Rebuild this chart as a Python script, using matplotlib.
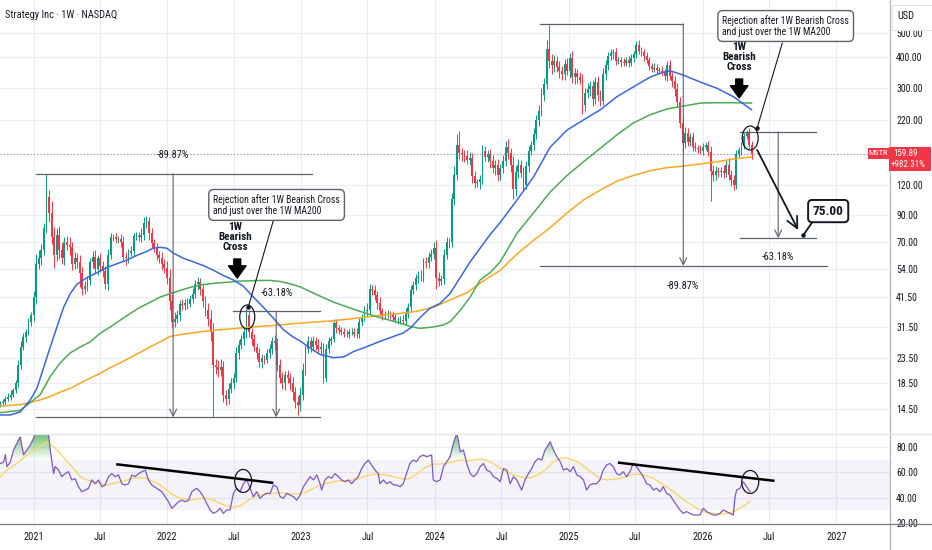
import datetime as dt

import numpy as np
import matplotlib
matplotlib.use('Agg')
from matplotlib import pyplot as plt, patches, font_manager
from matplotlib.colors import LinearSegmentedColormap
from matplotlib.lines import Line2D
from matplotlib.path import Path
from matplotlib.ticker import NullLocator


def pick_font(names):
    for name in names:
        try:
            font_manager.findfont(font_manager.FontProperties(family=name),
                                  fallback_to_default=False)
            return name
        except ValueError:
            continue
    return 'DejaVu Sans'


NARROW = pick_font(['Liberation Sans Narrow', 'Roboto Condensed', 'DejaVu Sans'])
plt.rcParams['font.family'] = [NARROW, 'DejaVu Sans']

# ---------------- data (weekly, first candle = week of 2020-10-02) ----------------
START = dt.date(2020, 10, 2)
first_open = 15.0
closes = [
    15.3, 15.5, 16.0, 16.3, 16.6, 17.3, 18.5, 22.0, 26.0, 28.5,
    30.0, 33.0, 35.0, 41.6, 57.0, 60.0, 65.0, 80.0, 107.0, 92.0,
    73.0, 62.0, 75.0, 65.0, 60.0, 70.0, 68.0, 67.0, 57.0, 60.0,
    58.0, 52.0, 45.0, 46.0, 49.0, 58.0, 61.0, 54.0, 60.0, 56.0,
    53.0, 47.0, 62.0, 73.0, 73.0, 72.0, 72.0, 70.0, 61.0, 60.0,
    63.0, 64.0, 74.0, 74.0, 73.0, 75.0, 84.0, 85.0, 76.0, 69.0,
    66.0, 62.0, 60.0, 57.0, 55.0, 50.0, 40.0, 33.0, 34.0, 35.0,
    39.0, 38.5, 39.5, 39.0, 41.0, 43.0, 47.0, 48.0, 45.0, 40.0,
    37.0, 34.0, 30.0, 22.0, 21.5, 21.0, 21.5, 16.5, 16.0, 17.5,
    18.5, 19.5, 24.5, 26.5, 28.0, 30.0, 35.0, 30.0, 28.0, 26.0,
    24.5, 22.5, 23.5, 23.0, 24.5, 25.5, 27.5, 27.0, 22.0, 19.5,
    18.5, 20.0, 19.5, 18.5, 17.0, 15.5, 15.0, 16.5, 21.0, 25.5,
    27.5, 26.0, 27.5, 26.5, 25.5, 26.0, 19.5, 25.5, 27.5, 28.0,
    32.5, 31.0, 30.5, 30.0, 29.5, 29.5, 30.0, 30.0, 29.5, 29.5,
    33.0, 34.5, 36.5, 37.0, 45.0, 44.5, 42.5, 39.5, 36.5, 35.0,
    35.5, 35.5, 35.0, 34.5, 33.5, 33.5, 33.5, 33.2, 35.5, 38.0,
    44.5, 46.5, 49.8, 50.5, 50.5, 58.0, 57.5, 61.0, 62.5, 66.0,
    50.0, 48.5, 49.5, 62.0, 70.0, 70.0, 105.0, 132.0, 175.0, 162.0,
    160.0, 157.0, 152.0, 155.0, 130.0, 122.0, 123.0, 127.0, 165.0, 156.0,
    160.0, 150.0, 141.0, 145.0, 132.0, 140.0, 150.0, 172.0, 162.0, 145.0,
    115.0, 135.0, 145.0, 134.0, 120.0, 143.0, 165.0, 175.0, 193.0, 220.0,
    240.0, 280.0, 310.0, 430.0, 385.0, 370.0, 385.0, 365.0, 350.0, 340.0,
    375.0, 350.0, 395.0, 330.0, 345.0, 330.0, 322.0, 255.0, 285.0, 295.0,
    305.0, 270.0, 315.0, 280.0, 265.0, 340.0, 370.0, 405.0, 415.0, 420.0,
    385.0, 390.0, 380.0, 378.0, 388.0, 378.0, 395.0, 412.0, 450.0, 425.0,
    420.0, 402.0, 388.0, 368.0, 358.0, 362.0, 355.0, 352.0, 348.0, 335.0,
    370.0, 335.0, 318.0, 295.0, 262.0, 215.0, 178.0, 195.0, 180.0, 188.0,
    172.0, 170.0, 168.0, 165.0, 172.0, 174.0, 164.0, 136.0, 132.0, 136.0,
    135.0, 137.0, 134.0, 145.0, 132.0, 125.0, 120.0, 160.0, 166.0, 173.0,
    190.0, 195.0, 175.0, 159.89,
]
# wick length above / below the body, in percent
wick_up = [
    2, 3, 2, 3, 4, 2, 3, 5, 6, 4, 3, 4, 3, 6, 10, 8, 6, 5, 24, 7,
    12, 10, 6, 8, 7, 5, 6, 8, 4, 6, 5, 7, 6, 5, 4, 4, 5, 6, 3, 5,
    4, 5, 6, 4, 3, 4, 3, 5, 6, 4, 4, 5, 3, 4, 4, 6, 5, 5, 4, 5,
    4, 5, 4, 6, 5, 6, 8, 7, 6, 5, 4, 5, 3, 4, 4, 5, 4, 5, 4, 6,
    5, 6, 8, 9, 6, 7, 8, 6, 5, 6, 5, 4, 6, 5, 4, 4, 6, 5, 4, 5,
    4, 5, 4, 3, 4, 5, 4, 6, 5, 6, 5, 4, 5, 4, 6, 5, 6, 8, 6, 4,
    5, 4, 5, 4, 6, 5, 4, 5, 4, 3, 4, 4, 3, 3, 4, 3, 3, 4, 4, 5,
    4, 3, 5, 6, 5, 4, 5, 4, 5, 3, 3, 4, 3, 4, 3, 3, 4, 5, 6, 4,
    5, 4, 4, 5, 6, 4, 5, 4, 5, 6, 8, 5, 4, 6, 5, 4, 6, 8, 11, 14,
    5, 4, 6, 5, 4, 5, 3, 4, 6, 5, 4, 5, 6, 4, 5, 4, 6, 5, 7, 5,
    8, 6, 5, 4, 6, 5, 5, 4, 6, 5, 6, 7, 6, 9, 26, 7, 6, 5, 6, 5,
    5, 6, 5, 7, 5, 4, 5, 6, 5, 6, 5, 6, 5, 6, 5, 6, 5, 4, 4, 3,
    4, 3, 3, 4, 3, 4, 4, 3, 3, 4, 3, 3, 4, 3, 3, 4, 3, 3, 4, 3,
    4, 5, 4, 5, 6, 5, 8, 6, 5, 4, 5, 4, 3, 4, 3, 3, 4, 5, 6, 5,
    4, 4, 5, 4, 6, 4, 5, 4, 3, 4, 3, 3, 5, 4,
]
wick_dn = [
    2, 3, 2, 2, 3, 2, 3, 4, 4, 3, 4, 3, 4, 5, 6, 5, 6, 5, 5, 8,
    6, 12, 6, 8, 5, 6, 5, 8, 6, 5, 6, 12, 6, 5, 4, 5, 6, 4, 5, 6,
    5, 4, 5, 4, 3, 4, 4, 5, 5, 6, 4, 3, 4, 4, 3, 4, 5, 5, 6, 4,
    4, 5, 4, 6, 5, 6, 8, 6, 5, 4, 5, 4, 4, 5, 3, 4, 4, 5, 6, 5,
    6, 7, 8, 39, 6, 7, 6, 6, 6, 5, 4, 5, 4, 5, 4, 5, 6, 5, 5, 4,
    5, 4, 5, 4, 3, 4, 5, 6, 6, 5, 5, 6, 5, 6, 7, 6, 9, 5, 4, 5,
    4, 5, 4, 5, 4, 5, 5, 4, 4, 4, 3, 4, 4, 3, 3, 3, 4, 3, 3, 4,
    4, 4, 4, 5, 4, 5, 5, 6, 5, 4, 3, 4, 3, 4, 3, 4, 4, 3, 4, 4,
    5, 4, 4, 5, 4, 5, 5, 5, 4, 5, 10, 5, 4, 5, 4, 6, 5, 6, 5, 6,
    6, 5, 4, 5, 6, 5, 4, 6, 5, 4, 5, 6, 5, 7, 6, 5, 4, 5, 6, 7,
    9, 6, 5, 4, 6, 4, 5, 4, 5, 4, 5, 4, 6, 5, 6, 8, 6, 5, 6, 5,
    5, 4, 6, 5, 6, 5, 4, 8, 6, 5, 6, 7, 5, 6, 5, 4, 5, 4, 4, 5,
    4, 3, 4, 3, 3, 4, 3, 3, 4, 3, 4, 4, 3, 4, 3, 3, 4, 3, 3, 4,
    5, 4, 5, 6, 5, 5, 8, 5, 4, 4, 4, 3, 4, 3, 4, 3, 4, 24, 6, 5,
    4, 4, 5, 4, 5, 5, 5, 4, 3, 4, 3, 3, 4, 4,
]

# moving averages: (week, value)
ma50 = [(0, 13.7), (3.9, 13.7), (7.8, 14.1), (11.7, 15.8), (14.3, 17.6), (16.9, 21.4),
        (19.5, 26), (22.1, 31.4), (24.7, 37.8), (27.3, 43), (29.9, 47), (33.8, 50),
        (37.7, 52.4), (41.6, 55), (45.5, 57), (49.4, 59), (53.2, 61.6), (57.1, 64),
        (59.7, 66), (62.3, 66.5), (64.9, 66), (67.5, 63), (71.4, 60), (75.3, 58),
        (79.2, 56), (83.1, 53.6), (87, 51), (90.9, 48.9), (94.8, 46.1), (98.7, 41.6),
        (102.6, 37.8), (106.5, 34.1), (110.4, 30.6), (114.3, 28.5), (117, 27.5),
        (120.9, 25.7), (124.8, 24.2), (130, 23.5), (134, 23.7), (137.7, 24.9),
        (143, 26.1), (148, 27.4), (153.3, 28.7), (157.2, 29.7), (159.9, 31.1),
        (163.8, 34.4), (167.6, 37.5), (171.5, 39.2), (175.4, 43.1), (179.3, 50),
        (183.2, 58), (187.1, 66), (191, 75), (194.9, 84), (201.5, 104), (207.9, 129),
        (214.4, 171), (221, 201), (227.4, 221), (233.9, 243), (240.4, 275),
        (246.9, 302), (253.4, 331), (258.6, 347), (261.3, 351), (266.4, 337),
        (272.9, 316), (279.4, 298), (285.9, 275), (293, 243)]
ma100 = [(0, 14.0), (7.8, 14.3), (11.7, 15.4), (15.6, 16.6), (19.5, 19.7), (23.4, 22.4),
         (27.3, 24.6), (31.2, 26), (35.1, 27.3), (39, 29.6), (42.9, 31.4), (46.8, 33.5),
         (50.6, 35.6), (54.5, 37.8), (58.4, 39.6), (62.3, 41.6), (66.2, 43), (70.1, 44.3),
         (74, 45.6), (77.9, 46.6), (81.8, 47.2), (85.7, 47.6), (89.6, 48), (93.5, 48.4),
         (97.4, 48.5), (101.3, 48.7), (105.2, 48.7), (109.1, 48.2), (113, 47.2),
         (117, 45.8), (120.5, 44), (123.6, 42.5), (129.9, 39.7), (136.5, 37.5),
         (143, 35.6), (149.3, 34), (156, 32.6), (159.9, 31.5), (163.7, 31),
         (168.8, 31.4), (172.7, 32), (175.4, 33), (179.3, 36.7), (183.2, 41.6),
         (187.1, 48.9), (191, 52.4), (194.9, 58), (201.5, 76), (207.9, 92),
         (214.4, 112), (221, 131), (227.4, 149), (233.9, 169), (240.4, 192),
         (246.9, 215), (253.4, 232), (259.9, 245), (266.4, 252), (272.9, 259),
         (279.4, 260), (285.9, 260), (293, 259)]
ma200 = [(0, 14.9), (7.8, 15.1), (11.7, 15.4), (15.6, 15.8), (19.5, 16.3), (23.4, 17.0),
         (27.3, 17.6), (31.2, 18.5), (35.1, 19.4), (39, 20.3), (42.9, 21.4), (46.8, 22.4),
         (50.6, 23.5), (54.5, 24.7), (58.4, 26), (62.3, 27.3), (66.2, 28.7), (70.1, 29.2),
         (74, 29.6), (77.9, 30), (81.8, 30.3), (85.7, 30.6), (89.6, 30.8), (93.5, 31.1),
         (98.7, 31.4), (103.9, 31.7), (109.1, 32), (114.3, 32.4), (119.5, 32.7),
         (124.7, 33), (130, 33.3), (137.7, 34), (143, 34.5), (149.3, 35.2), (156, 35.7),
         (162.4, 36.4), (168.8, 37.8), (175.4, 40.5), (182, 43.4), (188.4, 48.5),
         (194.9, 53.5), (201.5, 62.5), (207.9, 71), (214.4, 80), (221, 92),
         (227.4, 104), (233.9, 114), (240.4, 124), (246.9, 131), (253.4, 137),
         (259.9, 141), (266.4, 143), (272.9, 146), (279.4, 149), (285.9, 153),
         (293, 156)]

# RSI and its moving average: (week, value)
rsi = [(0, 67), (1.3, 68), (2, 74), (2.6, 64.5), (3.9, 68), (5.2, 77.6), (7.1, 85.5),
       (7.8, 88), (8.4, 81.6), (9.1, 74), (10.4, 77.6), (11.7, 81.6), (13, 87),
       (13.6, 90.5), (15, 93), (16.5, 94), (18, 93), (18.8, 91), (19.5, 77.6), (20.8, 59),
       (21.4, 64.5), (22.7, 62), (24, 56.6), (25.3, 59), (26.6, 60.5), (27.9, 54),
       (29.2, 55), (30.5, 48.7), (31.8, 44.7), (33.1, 46), (34.4, 47.4), (35.7, 54),
       (37, 51), (38.3, 54), (39.6, 48.7), (40.9, 50), (42.2, 56.6), (43.5, 59),
       (44.8, 56.6), (46.1, 58), (47.4, 51), (48.7, 50), (50, 51), (51.3, 58),
       (52.6, 56.6), (53.9, 59), (55.2, 60.5), (56.5, 61.8), (57.8, 54), (59.1, 50),
       (61, 47.4), (63, 44.7), (64.3, 40.8), (65.6, 36.8), (66.9, 31.6), (68.2, 34.2),
       (69.5, 36.8), (70.8, 38), (72.1, 36.8), (73.4, 38), (74.7, 44.7), (76.6, 47.4),
       (77.9, 44.7), (79.2, 40.8), (80.5, 35.5), (81.8, 30.3), (83.1, 27.6), (84.4, 29),
       (85.7, 31.6), (87, 27.6), (88.3, 30.3), (89.6, 30.3), (90.9, 43.4), (92.2, 47.4),
       (93.5, 44.7), (94.8, 51), (96.1, 54), (97.4, 47.4), (98.7, 40.8), (100, 44.7),
       (101.3, 39.5), (102.6, 42), (103.9, 43.4), (105.2, 43.4), (106.5, 50),
       (107.8, 48.7), (109.1, 40.8), (110.4, 39.5), (111.7, 43.4), (113, 42),
       (114.3, 40.8), (115.6, 38), (116.9, 42), (118.2, 48.7), (119.5, 52.6),
       (120.8, 56.6), (122.1, 54), (123.4, 58), (124.7, 51), (125.3, 46), (126.6, 54),
       (127.9, 56.6), (129.2, 55.3), (130.5, 59), (131.8, 56.6), (133.1, 54),
       (134.4, 52.6), (135.7, 54), (137, 51), (138.3, 54), (139.6, 56.6), (140.9, 63),
       (142.2, 67), (143.5, 69.7), (144.8, 65.8), (146.1, 61.8), (147.4, 59), (148, 51),
       (149.4, 54), (150.7, 51), (152, 52.6), (153.3, 50), (154.6, 50), (155.9, 48.7),
       (157.1, 51), (158.4, 59), (159.7, 67), (161, 69.7), (162.3, 68.4), (163.6, 72.4),
       (165, 73.7), (166.2, 72.4), (168.2, 73.7), (168.8, 54), (170.1, 52.6),
       (171.5, 54), (172.8, 64.5), (174.1, 68.4), (175.4, 72.4), (176.7, 83), (178, 91),
       (178.6, 85.5), (179.3, 76.3), (180.6, 77.6), (181.9, 67), (183.2, 59),
       (184.5, 56.6), (185.8, 59), (187.1, 64.5), (188.4, 67), (189.7, 61.8),
       (191, 60.5), (192.3, 56.6), (193.6, 55.3), (194.9, 52.6), (196.2, 63),
       (197.5, 61.8), (198.8, 51), (200.1, 56.6), (201.4, 54), (203.3, 46), (204.6, 54),
       (205.9, 59), (207.2, 63), (208.5, 68.4), (209.8, 71), (211.1, 69.7),
       (212.4, 77.6), (214.4, 84.2), (215.7, 77.6), (217, 72.4), (218.3, 68.4),
       (219.6, 61.8), (220.9, 63), (222.2, 60.5), (223.5, 64.5), (224.8, 57.9),
       (226.1, 56.6), (227.4, 54), (228.6, 46), (229.9, 50), (231.2, 51), (232.5, 51),
       (233.8, 54), (235.1, 61.8), (236.4, 65.8), (237.7, 67), (239, 64.5), (240.3, 59),
       (241.6, 57.9), (242.9, 60.5), (244.2, 56.6), (245.5, 60.5), (246.8, 67),
       (248.1, 64.5), (249.4, 60.5), (250.7, 56.6), (252, 51), (253.3, 50), (254.6, 46),
       (255.9, 47.4), (257.2, 44.7), (258.5, 48.7), (259.8, 43.4), (261.1, 42),
       (262.4, 38), (263.7, 34.2), (265, 30.3), (266.3, 27.6), (267.6, 29),
       (268.9, 27.6), (270.2, 26.3), (271.5, 26.3), (272.8, 26.3), (274.1, 31.6),
       (275.4, 29), (276.7, 27.6), (278, 26.3), (279.3, 26.3), (280.6, 27.6),
       (281.9, 30.3), (283.2, 29), (284.5, 27.6), (285.8, 26.3), (286.5, 40.8),
       (287.1, 46), (288.4, 47.4), (289.7, 52.6), (291, 48.7), (292.3, 44.7)]
rsi_ma = [(0, 56.6), (2.6, 61.8), (6.5, 67), (10.4, 73.7), (14.3, 79), (18.2, 84.2),
          (20.8, 80.3), (23.4, 75), (26, 68.4), (28.6, 63), (31.2, 56.6), (33.8, 54),
          (36.4, 52.6), (39, 51.3), (41.6, 50), (44.2, 51.3), (46.8, 52.6), (49.4, 54),
          (52, 55.3), (54.5, 55.8), (57.1, 55.3), (59.7, 52.6), (62.3, 50), (64.9, 46),
          (67.5, 42), (70.1, 39.5), (72.7, 38.2), (75.3, 38.2), (77.9, 39.5), (80.5, 39.5),
          (83.1, 38.2), (85.7, 35.5), (88.3, 33.4), (90.9, 32.4), (93.5, 33.4),
          (96.1, 36.8), (98.7, 40.8), (101.3, 42), (103.9, 42.9), (106.5, 43.4),
          (109.1, 43.9), (111.7, 43.4), (114.3, 42.9), (116.9, 43.4), (119.5, 44.7),
          (122.1, 47.4), (124.7, 50), (127.3, 51.3), (129.9, 52.6), (132.5, 53.4),
          (135.1, 53.4), (137.7, 54), (140.3, 55.3), (142.9, 57.4), (145.5, 58.4),
          (148.1, 58.4), (150.7, 57.9), (153.2, 56.6), (155.8, 55.3), (158.4, 54.5),
          (161, 56.6), (163.6, 60.5), (166.2, 64.5), (168.8, 66.3), (171.5, 66.6),
          (174.1, 67), (176.7, 68.4), (179.3, 69.7), (181.9, 69.2), (184.5, 69.7),
          (187.1, 70.3), (189.7, 69.7), (192.3, 67), (194.9, 63), (197.5, 60.5),
          (200.1, 57.9), (202.7, 56.6), (205.3, 55.3), (207.9, 56.6), (210.5, 59),
          (213.1, 63), (215.7, 68.4), (218.3, 71), (220.9, 71.3), (223.5, 69.7),
          (226.1, 67), (228.6, 63), (231.2, 59), (233.8, 55.3), (236.4, 54), (239, 54.5),
          (241.6, 55.3), (244.2, 56.6), (246.8, 58.5), (249.4, 58.4), (252, 57.2),
          (254.6, 55.3), (257.2, 51.8), (259.8, 48.7), (262.4, 44.7), (265, 40.8),
          (267.6, 36.8), (270.2, 33.4), (272.8, 30.3), (275.4, 28.2), (278, 27.6),
          (280.6, 27.1), (283.2, 27.6), (285.8, 28.9), (288.4, 31.6), (291, 35),
          (292.3, 36.8)]

price_ticks = [14.5, 18.5, 23.5, 31.5, 41.5, 54, 70, 90, 120, 160, 220, 300, 400, 500]
hidden_tick = 160  # its label sits under the last-price tag
rsi_ticks = [20, 40, 60, 80]
years = [2021, 2022, 2023, 2024, 2025, 2026, 2027]
symbol = 'MSTR'
last_price = 159.89
last_change = '+982.31%'
title = 'Strategy Inc · 1W · NASDAQ'

# measured moves (week, price) and their labels
left_top, left_bottom, left_high2 = 133.0, 13.4, 36.4
right_top, right_bottom = 546.0, 55.8
target_top, target_bottom = 197.3, 72.6
target_label = '75.00'
drop_big, drop_small = '-89.87%', '-63.18%'
callout = 'Rejection after 1W Bearish Cross\nand just over the 1W MA200'
cross_label = '1W\nBearish\nCross'

# ---------------- styling ----------------
W, H = 932, 550
PX_W = 890
GREEN, RED = '#089981', '#f23645'
TXT = '#131722'
GRID = '#eaedf2'
LINE = '#5d606b'

fig = plt.figure(figsize=(W / 100, H / 100), dpi=100)
fig.patch.set_facecolor('white')
ax = fig.add_axes([0, 1 - 434 / H, PX_W / W, 434 / H])
rax = fig.add_axes([0, 1 - 524 / H, PX_W / W, 90 / H], sharex=ax)

X_LIM = (-0.1, 346.9)
ax.set_yscale('log')
ax.set_xlim(*X_LIM)
ax.set_ylim(11.45, 684.5)
rax.set_ylim(19.2, 90.3)

for a in (ax, rax):
    for s in a.spines.values():
        s.set_visible(False)
    a.set_facecolor('white')


def week_of(d):
    return (d - START).days / 7


tick_pos, tick_lab = [], []
for yr in years:
    tick_pos.append(week_of(dt.date(yr, 1, 1)))
    tick_lab.append(str(yr))
    if yr < years[-1]:
        tick_pos.append(week_of(dt.date(yr, 7, 1)))
        tick_lab.append('Jul')

for p in tick_pos:
    ax.axvline(p, color=GRID, lw=0.8, zorder=0)
    rax.axvline(p, color=GRID, lw=0.8, zorder=0)
for p in price_ticks:
    ax.axhline(p, color=GRID, lw=0.8, zorder=0)
for p in rsi_ticks[1:]:
    rax.axhline(p, color=GRID, lw=0.8, zorder=0)

# candles
c = np.array(closes)
o = np.r_[first_open, c[:-1]]
x = np.arange(len(c))
top = np.maximum(o, c)
bot = np.minimum(o, c)
hi = top * (1 + np.array(wick_up) / 100)
lo = bot * (1 - np.array(wick_dn) / 100)
col = np.where(c >= o, GREEN, RED)
ax.vlines(x, lo, hi, colors=col, lw=0.7, zorder=3)
ax.bar(x, top - bot, bottom=bot, width=0.72, color=col, lw=0, zorder=3)

for pts, colour in ((ma200, '#f9a825'), (ma100, '#4ea957'), (ma50, '#3b66dd')):
    wk, val = zip(*pts)
    ax.plot(wk, val, color=colour, lw=1.1, zorder=4, solid_capstyle='round')

ax.axhline(last_price, color='#9598a1', lw=0.8, ls=(0, (1, 2)), zorder=2)

# axis labels
ax.yaxis.tick_right()
ax.set_yticks(price_ticks)
ax.set_yticklabels(['' if t == hidden_tick else f'{t:.2f}' for t in price_ticks])
ax.yaxis.set_minor_locator(NullLocator())
ax.tick_params(axis='y', length=0, pad=4.5, labelsize=7, labelcolor=TXT)
ax.tick_params(axis='x', length=0, labelbottom=False)

# RSI pane
rax.axhspan(30, 70, color='#7e57c2', alpha=0.07, lw=0, zorder=1)
rwk, rval = (np.array(v) for v in zip(*rsi))
fb = rax.fill_between(rwk, 70, rval, where=rval > 70, interpolate=True,
                      facecolor='none', lw=0)
paths = fb.get_paths()
if paths:
    grad = np.linspace(0, 1, 200).reshape(-1, 1)
    cmap = LinearSegmentedColormap.from_list(
        'ob', [(0.30, 0.69, 0.31, 0.0), (0.30, 0.69, 0.31, 0.85)])
    im = rax.imshow(grad, extent=[rwk[0], rwk[-1], 70, 92], origin='lower',
                    aspect='auto', cmap=cmap, zorder=2, interpolation='bilinear')
    im.set_clip_path(Path.make_compound_path(*paths), transform=rax.transData)
mwk, mval = zip(*rsi_ma)
rax.plot(mwk, mval, color='#f5d76e', lw=1.0, zorder=3)
rax.plot(rwk, rval, color='#7e57c2', lw=0.9, zorder=4)

rax.yaxis.tick_right()
rax.set_yticks(rsi_ticks)
rax.set_yticklabels([f'{t:.2f}' for t in rsi_ticks])
rax.yaxis.set_minor_locator(NullLocator())
rax.tick_params(axis='y', length=0, pad=4.5, labelsize=7, labelcolor=TXT)
rax.set_xticks(tick_pos)
rax.set_xticklabels(tick_lab)
rax.tick_params(axis='x', length=0, pad=6, labelsize=7.5, labelcolor=TXT)
rax.set_xlim(*X_LIM)
rax.set_ylim(19.2, 90.3)


# ---------------- drawings ----------------
def hline(a, w0, w1, y):
    a.plot([w0, w1], [y, y], color=LINE, lw=0.9, zorder=5)


def varrow(a, w, y0, y1):
    a.annotate('', xy=(w, y1), xytext=(w, y0),
               arrowprops=dict(arrowstyle='->,head_length=0.5,head_width=0.25',
                               color=LINE, lw=0.8, shrinkA=0, shrinkB=0), zorder=5)


def ring(a, w, p, wpx, hpx):
    cx, cy = a.transAxes.inverted().transform(a.transData.transform((w, p)))
    bb = a.get_window_extent()
    a.add_patch(patches.Ellipse((cx, cy), wpx / bb.width, hpx / bb.height,
                                transform=a.transAxes, fill=False, ec=TXT,
                                lw=0.9, zorder=6))


def pointer(a, w0, p0, w1, p1, lw=0.8):
    a.plot([w0, w1], [p0, p1], color=TXT, lw=lw, zorder=6)
    a.plot([w1], [p1], 'o', ms=2.2, color=TXT, zorder=6)


def bold_arrow(a, w, p0, p1):
    a.annotate('', xy=(w, p1), xytext=(w, p0),
               arrowprops=dict(arrowstyle='simple,head_width=1.15,head_length=0.8,tail_width=0.45',
                               fc='black', ec='black', mutation_scale=11,
                               shrinkA=0, shrinkB=0), zorder=6)


box = dict(boxstyle='round,pad=0.45,rounding_size=0.5', fc='white', ec=LINE, lw=1)

# left: 2021-2022 move
hline(ax, 14.0, 121.6, left_top)
hline(ax, 14.0, 124.7, left_bottom)
varrow(ax, 67.4, left_top, left_bottom)
ax.text(67.4, 159, drop_big, ha='center', va='center', fontsize=7.5, color=TXT, zorder=6)
hline(ax, 90.8, 124.7, left_high2)
varrow(ax, 107.6, left_high2, left_bottom)
ax.text(108.0, 43.2, drop_small, ha='center', va='center', fontsize=7.5, color=TXT, zorder=6)
ring(ax, 96.3, 34.5, 15, 24)
pointer(ax, 106.4, 85.1, 96.7, 37.9)
ax.text(83.0, 99.2, callout, ha='left', va='center', fontsize=7, color=TXT,
        linespacing=1.15, bbox=box, zorder=7)
ax.text(91.6, 73.3, cross_label, ha='center', va='center', fontsize=8, color=TXT,
        fontweight='bold', linespacing=1.0, zorder=6)
bold_arrow(ax, 92.4, 59.6, 49.8)

# right: 2024-2026 move
hline(ax, 210.5, 266.3, right_top)
hline(ax, 210.5, 322.4, right_bottom)
varrow(ax, 266.3, right_top, right_bottom)
ax.text(266.3, 46.2, drop_big, ha='center', va='center', fontsize=7.5, color=TXT, zorder=6)
hline(ax, 288.5, 318.1, target_top)
hline(ax, 288.5, 318.1, target_bottom)
varrow(ax, 303.3, target_top, target_bottom)
ax.text(303.3, 60.8, drop_small, ha='center', va='center', fontsize=7.5, color=TXT, zorder=6)
ring(ax, 292.4, 186.4, 16, 24)
pointer(ax, 304.9, 456, 295.1, 204.9)
ax.text(281.5, 535.7, callout, ha='left', va='center', fontsize=7, color=TXT,
        linespacing=1.15, bbox=box, zorder=7)
ax.text(288.1, 400, cross_label, ha='center', va='center', fontsize=8, color=TXT,
        fontweight='bold', linespacing=1.0, zorder=6)
bold_arrow(ax, 288.1, 325, 272)
ax.annotate('', xy=(311.1, 78.3), xytext=(295.1, 166.5),
            arrowprops=dict(arrowstyle='->,head_length=0.8,head_width=0.4',
                            color=TXT, lw=1.3, shrinkA=0, shrinkB=0), zorder=6)
pointer(ax, 316.6, 84.3, 313.1, 74.6, lw=1.3)
ax.text(322.8, 93.6, target_label, ha='center', va='center', fontsize=9.5,
        fontweight='bold', color=TXT, zorder=7,
        bbox=dict(boxstyle='round,pad=0.35,rounding_size=0.3', fc='white', ec=TXT, lw=1.4))

# RSI drawings
rax.plot([45.7, 106.0], [66.3, 51.8], color='black', lw=1.8, zorder=6)
ring(rax, 94.7, 53.2, 17, 23)
rax.plot([241.3, 301.4], [67.6, 53.4], color='black', lw=1.8, zorder=6)
ring(rax, 292.4, 52.4, 17, 23)

# ---------------- frame, title, tags ----------------
fig.add_artist(Line2D([PX_W / W, PX_W / W], [0, 1], color='#b2b5be', lw=0.9))
fig.add_artist(Line2D([0, 1], [1 - 434 / H, 1 - 434 / H], color='#e0e3eb', lw=0.9))
fig.add_artist(Line2D([0, 1], [1 - 524 / H, 1 - 524 / H], color='#787b86', lw=0.9))

fig.text(5 / W, 1 - 15 / H, title, fontsize=7.5, color=TXT, va='center', ha='left')

fig.add_artist(patches.Rectangle((892 / W, 1 - 30 / H), 42 / W, 25 / H,
                                 transform=fig.transFigure, fc='white',
                                 ec='#e0e3eb', lw=0.8, zorder=5))
fig.text(906 / W, 1 - 16 / H, 'USD', fontsize=7.5, color=TXT, ha='center',
         va='center', zorder=6)

y_px = H - ax.transData.transform((0, last_price))[1]
fig.add_artist(patches.Rectangle((868 / W, 1 - (y_px + 4.5) / H), 21 / W, 11 / H,
                                 transform=fig.transFigure, fc=RED, ec='none', zorder=5))
fig.text(878.5 / W, 1 - (y_px - 1) / H, symbol, fontsize=6, color='white', ha='center',
         va='center', zorder=6)
fig.add_artist(patches.Rectangle((889 / W, 1 - (y_px + 17) / H), 42 / W, 24 / H,
                                 transform=fig.transFigure, fc=RED, ec='none', zorder=5))
fig.text(893 / W, 1 - (y_px - 1) / H, f'{last_price:.2f}', fontsize=6.5, color='white',
         ha='left', va='center', zorder=6)
fig.text(891 / W, 1 - (y_px + 10) / H, last_change, fontsize=6.5, color='white',
         ha='left', va='center', zorder=6)

fig.savefig('out.png', dpi=100, facecolor='white')
